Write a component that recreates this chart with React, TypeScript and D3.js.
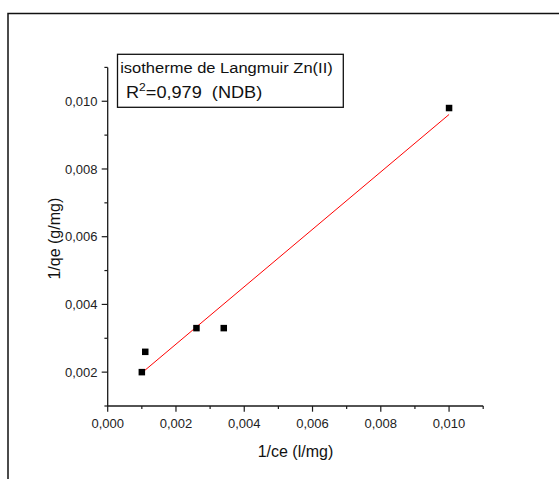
import React from "react";
import * as d3 from "d3";

const xValues = [0.001, 0.0011, 0.0026, 0.0034, 0.01];
const yValues = [0.002, 0.0026, 0.0033, 0.0033, 0.0098];
const xMajorTicks = [0, 0.002, 0.004, 0.006, 0.008, 0.01];
const xMinorTicks = [0.001, 0.003, 0.005, 0.007, 0.009, 0.011];
const yMajorTicks = [0.002, 0.004, 0.006, 0.008, 0.01];
const yMinorTicks = [0.001, 0.003, 0.005, 0.007, 0.009, 0.011];
const legendLine1 = "isotherme de Langmuir Zn(II)";
const legendR2 = "=0,979\u00a0\u00a0(NDB)";
const xTitle = "1/ce (l/mg)";
const yTitle = "1/qe (g/mg)";

const FONT = "'Liberation Sans', Arial, Helvetica, sans-serif";

export default function App() {
  const x = d3.scaleLinear().domain([0, 0.011]).range([107.7, 483.2]);
  const y = d3.scaleLinear().domain([0.001, 0.011]).range([406, 67.4]);
  const fmt = (v: number) => d3.format(".3f")(v).replace(".", ",");

  // linear regression
  const mx = d3.mean(xValues) as number;
  const my = d3.mean(yValues) as number;
  let sxy = 0, sxx = 0;
  xValues.forEach((xv, i) => {
    sxy += (xv - mx) * (yValues[i] - my);
    sxx += (xv - mx) * (xv - mx);
  });
  const slope = sxy / sxx;
  const intercept = my - slope * mx;
  const [xMin, xMax] = d3.extent(xValues) as [number, number];
  const fitLine = d3
    .line<number>()
    .x((d) => x(d))
    .y((d) => y(intercept + slope * d));

  const x0 = x.range()[0];
  const y0 = y.range()[0];
  const axisColor = "#1a1a1a";
  const sq = 6.5;

  return (
    <svg
      width={559}
      height={479}
      style={{ position: "absolute", left: 0, top: 0, background: "#fff" }}
      fontFamily={FONT}
    >
      <rect x={0} y={0} width={559} height={479} fill="#fff" />
      {/* outer frame */}
      <rect x={8} y={13.5} width={560} height={480} fill="none" stroke="#111" strokeWidth={1.5} />

      {/* y axis */}
      <line x1={x0} x2={x0} y1={y(0.001)} y2={y(0.011)} stroke={axisColor} strokeWidth={1.3} />
      {yMajorTicks.map((t) => (
        <g key={"ym" + t}>
          <line x1={x0 - 6} x2={x0} y1={y(t)} y2={y(t)} stroke={axisColor} strokeWidth={1.2} />
          <text x={97.5} y={y(t) + 4.6} textAnchor="end" fontSize={13} fill="#222">
            {fmt(t)}
          </text>
        </g>
      ))}
      {yMinorTicks.map((t) => (
        <line key={"yn" + t} x1={x0 - 3.3} x2={x0} y1={y(t)} y2={y(t)} stroke={axisColor} strokeWidth={1.2} />
      ))}

      {/* x axis */}
      <line x1={x(0)} x2={x(0.011)} y1={y0} y2={y0} stroke={axisColor} strokeWidth={1.3} />
      {xMajorTicks.map((t) => (
        <g key={"xm" + t}>
          <line x1={x(t)} x2={x(t)} y1={y0} y2={y0 + 5.7} stroke={axisColor} strokeWidth={1.2} />
          <text x={x(t)} y={428.3} textAnchor="middle" fontSize={13} fill="#222">
            {fmt(t)}
          </text>
        </g>
      ))}
      {xMinorTicks.map((t) => (
        <line key={"xn" + t} x1={x(t)} x2={x(t)} y1={y0} y2={y0 + 3} stroke={axisColor} strokeWidth={1.2} />
      ))}

      {/* axis titles */}
      <text x={(x(0) + x(0.011)) / 2} y={456.7} textAnchor="middle" fontSize={16} fill="#111">
        {xTitle}
      </text>
      <text
        transform={`translate(59.5, ${(y(0.001) + y(0.011)) / 2 + 2}) rotate(-90)`}
        textAnchor="middle"
        fontSize={16}
        fill="#111"
      >
        {yTitle}
      </text>

      {/* fit line */}
      <path d={fitLine([xMin, xMax]) || ""} fill="none" stroke="#ff0000" strokeWidth={1} />

      {/* data points */}
      {xValues.map((xv, i) => (
        <rect
          key={"p" + i}
          x={x(xv) - sq / 2}
          y={y(yValues[i]) - sq / 2}
          width={sq}
          height={sq}
          fill="#000"
        />
      ))}

      {/* legend box */}
      <rect x={117.5} y={54.3} width={225.8} height={53} fill="#fff" stroke="#111" strokeWidth={1.3} />
      <text
        transform="translate(120.2, 73.3) scale(1.1, 1)"
        fontSize={15}
        fill="#111"
      >
        {legendLine1}
      </text>
      <text transform="translate(126, 98.3) scale(1.1, 1)" fontSize={16.5} fill="#111">
        R<tspan fontSize={11} dy={-7}>2</tspan>
        <tspan dy={7}>{legendR2}</tspan>
      </text>
    </svg>
  );
}
